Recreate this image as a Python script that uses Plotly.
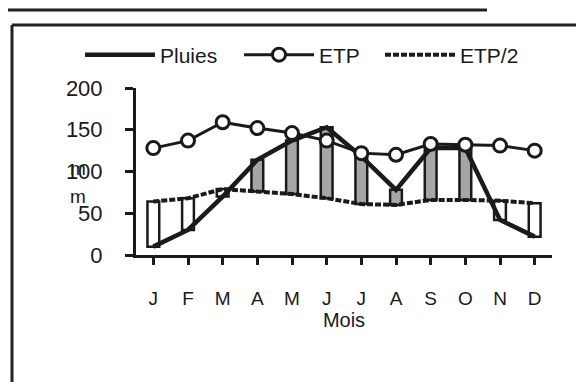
import plotly.graph_objects as go

month_labels = ["J", "F", "M", "A", "M", "J", "J", "A", "S", "O", "N", "D"]
pluies = [10, 30, 70, 114, 137, 153, 118, 78, 128, 128, 42, 22]
etp = [128, 137, 159, 152, 146, 137, 122, 120, 133, 132, 131, 125]
etp2 = [64, 68, 79, 76, 73, 68, 61, 60, 66, 66, 65, 62]
y_ticks = [0, 50, 100, 150, 200]

FONT = "Liberation Sans, Arial, sans-serif"
INK = "#1a1a1a"

x = list(range(12))
base = [min(p, e) for p, e in zip(pluies, etp2)]
height = [abs(e - p) for p, e in zip(pluies, etp2)]
colors = ["#ffffff" if e > p else "#a6a6a6" for p, e in zip(pluies, etp2)]

fig = go.Figure()
fig.add_trace(go.Bar(
    x=x, y=height, base=base, width=0.34,
    marker=dict(color=colors, line=dict(color=INK, width=2.5)),
    showlegend=False, hoverinfo="skip",
))
fig.add_trace(go.Scatter(
    x=x, y=pluies, name="Pluies", mode="lines",
    line=dict(color=INK, width=4.5),
))
fig.add_trace(go.Scatter(
    x=x, y=etp, name="ETP", mode="lines+markers",
    line=dict(color=INK, width=3),
    marker=dict(symbol="circle", size=13, color="white", line=dict(color=INK, width=3)),
))
fig.add_trace(go.Scatter(
    x=x, y=etp2, name="ETP/2", mode="lines", legend="legend2",
    line=dict(color=INK, width=4, dash="6px,2px"),
))

# page offset of the figure (body margin)
OFF = 8
FW, FH = 584 - OFF, 382 - OFF
L, W, T, H = 136 - OFF, 416, 88 - OFF, 167


def px(xp):
    return (xp - OFF - L) / W


def py(yp):
    return (T + H - (yp - OFF)) / H


legend_common = dict(
    orientation="h", yanchor="middle", xanchor="left",
    xref="paper", yref="paper",
    font=dict(size=21), itemwidth=70, bgcolor="rgba(0,0,0,0)",
)

fig.update_layout(
    width=FW, height=FH,
    margin=dict(l=L, r=FW - L - W, t=T, b=FH - T - H),
    paper_bgcolor="white", plot_bgcolor="white",
    font=dict(family=FONT, size=19, color=INK),
    barmode="overlay",
    showlegend=True,
    legend=dict(x=px(80), y=py(55), entrywidth=74, **legend_common),
    legend2=dict(x=px(380), y=py(55), **legend_common),
    xaxis=dict(
        range=[-0.5, 11.5], tickmode="array", tickvals=x, ticktext=month_labels,
        tickson="boundaries", ticks="outside", ticklen=7, tickwidth=3, tickcolor=INK,
        showline=True, linewidth=3, linecolor=INK, showgrid=False, zeroline=False,
        ticklabelstandoff=17, tickfont=dict(size=19),
        title=dict(text="Mois", font=dict(size=20), standoff=2),
    ),
    yaxis=dict(
        range=[0, 200], tickmode="array", tickvals=y_ticks,
        ticks="outside", ticklen=8, tickwidth=3, tickcolor=INK,
        showline=True, linewidth=3, linecolor=INK, showgrid=False, zeroline=False,
        ticklabelstandoff=18, tickfont=dict(size=22),
    ),
    shapes=[
        dict(type="line", xref="paper", yref="paper", x0=px(7), x1=px(487), y0=py(10), y1=py(10),
             line=dict(color="#222", width=3)),
        dict(type="line", xref="paper", yref="paper", x0=px(12), x1=px(600), y0=py(25), y1=py(25),
             line=dict(color="#222", width=3)),
        dict(type="line", xref="paper", yref="paper", x0=px(12), x1=px(12), y0=py(25), y1=py(400),
             line=dict(color="#222", width=3)),
    ],
    annotations=[
        dict(text="m", xref="paper", yref="paper", x=px(68), y=py(168), showarrow=False,
             font=dict(size=19, color=INK)),
        dict(text="m", xref="paper", yref="paper", x=px(68), y=py(196), showarrow=False,
             font=dict(size=19, color=INK)),
    ],
)

fig.write_html("out.html")
